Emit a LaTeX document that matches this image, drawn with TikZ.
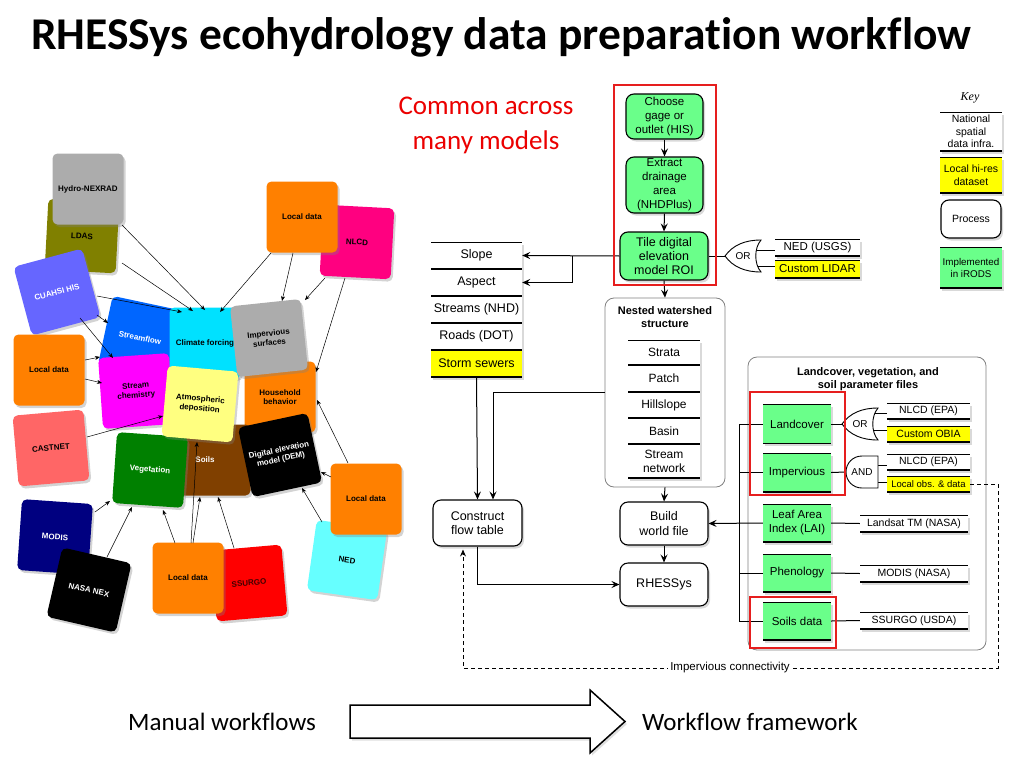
\documentclass[tikz,border=0pt]{standalone}
\usepackage{fontspec}
\setmainfont{Liberation Sans}
\setsansfont{Liberation Sans}
\newfontfamily\titlefont[Ligatures=NoCommon]{Carlito}
\newfontfamily\keyfont{Liberation Serif}
\usetikzlibrary{shadows,calc,arrows.meta}
\definecolor{irods}{RGB}{106,255,138}
\definecolor{ylw}{RGB}{255,255,0}
\definecolor{sqgray}{RGB}{172,172,172}
\definecolor{cOlive}{RGB}{128,128,0}
\definecolor{cuahsic}{RGB}{102,102,255}
\definecolor{orng}{RGB}{255,128,0}
\definecolor{nlcdc}{RGB}{255,0,128}
\definecolor{sflowc}{RGB}{0,102,255}
\definecolor{climc}{RGB}{0,225,255}
\definecolor{chemc}{RGB}{255,0,255}
\definecolor{atmc}{RGB}{255,255,128}
\definecolor{castc}{RGB}{255,102,102}
\definecolor{soilc}{RGB}{128,64,0}
\definecolor{vegc}{RGB}{0,128,0}
\definecolor{modc}{RGB}{0,0,128}
\definecolor{ssc}{RGB}{255,0,0}
\definecolor{nedc}{RGB}{102,255,255}
\definecolor{redline}{RGB}{230,30,30}
\definecolor{comred}{RGB}{235,0,0}
\begin{document}
\begin{tikzpicture}[x=1pt,y=-1pt,
  sq/.style={rounded corners=5pt, minimum width=71pt, minimum height=71pt, inner sep=1pt, align=center, font=\bfseries\fontsize{8}{9.5}\selectfont, drop shadow={opacity=0.35,shadow xshift=2pt,shadow yshift=-2.5pt}},
  proc/.style={draw, line width=1.1pt, rounded corners=8pt, fill=white, align=center, inner sep=1pt, font=\fontsize{12.5}{14.5}\selectfont, drop shadow={opacity=0.3,shadow xshift=2pt,shadow yshift=-2.5pt}},
  gproc/.style={proc, fill=irods, font=\fontsize{11.5}{14}\selectfont},
  tbl/.style={fill=white, align=center, inner sep=0.5pt, font=\fontsize{12.5}{14}\selectfont, path picture={\draw[line width=1.4pt] (path picture bounding box.north west) -- (path picture bounding box.north east) (path picture bounding box.south west) -- (path picture bounding box.south east);}, drop shadow={opacity=0.3,shadow xshift=2pt,shadow yshift=-2.5pt}},
  arr/.style={line width=1pt, -{Stealth[length=8pt,width=7pt,inset=3pt]}},
  carr/.style={line width=0.5pt, -{Stealth[length=5pt,width=4pt]}},
  lin/.style={line width=1pt},
  gate/.style={fill=white, draw, line width=0.9pt},
  gtext/.style={inner sep=0pt, minimum width=36pt, minimum height=32pt, font=\fontsize{10}{12}\selectfont},
  cont/.style={draw=black!50, line width=0.8pt, rounded corners=9pt, inner sep=0pt},
  redbox/.style={draw=redline, line width=1.2pt, inner sep=0pt}
]
\useasboundingbox (0,0) rectangle (1024,768);

% ---------- titles ----------
\node[anchor=base west, inner sep=0pt, font=\titlefont\bfseries\fontsize{45.5}{52}\selectfont] (title) at (31,49) {RHESSys ecohydrology data preparation workflow};
\node[align=center, text=comred, font=\titlefont\fontsize{27}{35}\selectfont] (common) at (486,125) {Common across\\many models};
\node[anchor=base west, inner sep=0pt, font=\titlefont\fontsize{25}{30}\selectfont] (manual) at (128,730) {Manual workflows};
\node[anchor=base west, inner sep=0pt, font=\titlefont\fontsize{25}{30}\selectfont] (framework) at (642,730) {Workflow framework};
\draw[line width=1.5pt, fill=white, drop shadow={opacity=0.25,shadow xshift=2pt,shadow yshift=-2.5pt}] (350,705) -- (590,705) -- (590,690) -- (625,721.5) -- (590,753) -- (590,738) -- (350,738) -- cycle;

% ---------- left cluster ----------
\node[sq, fill=cOlive, rotate=-3] (ldas) at (82,236) {LDAS};
\node[sq, fill=sqgray] (hydro) at (88,189) {Hydro-NEXRAD};
\node[sq, fill=cuahsic, text=white, rotate=15] (cuahsi) at (57,292) {CUAHSI HIS};
\node[sq, fill=nlcdc, rotate=-3] (nlcd) at (357,242) {NLCD};
\node[sq, fill=orng] (locA) at (302,217) {Local data};
\node[sq, fill=orng] (locB) at (49,370) {Local data};
\node[sq, fill=castc, rotate=5] (castnet) at (51,448) {CASTNET};
\node[sq, fill=sflowc, text=white, rotate=-12] (sflow) at (140,338) {Streamflow};
\node[sq, fill=chemc, rotate=4] (chem) at (136,391) {Stream\\chemistry};
\node[sq, fill=climc] (clim) at (205,343) {Climate forcing};
\node[sq, fill=orng] (house) at (280,397) {Household\\behavior};
\node[sq, fill=sqgray, rotate=6] (imperv) at (269,338) {Impervious\\surfaces};
\node[sq, fill=soilc, text=white] (soils) at (215,460) {Soils\hspace{20pt}\mbox{}};
\node[sq, fill=vegc, text=white, rotate=-4] (vege) at (150,470) {Vegetation};
\node[sq, fill=atmc, rotate=-5] (atmos) at (200,404) {Atmospheric\\deposition};
\node[sq, fill=black, text=white, rotate=12] (dem) at (280,455) {Digital elevation\\model (DEM)};
\node[sq, fill=modc, text=white, rotate=-4] (modis) at (55,537) {MODIS};
\node[sq, fill=black, text=white, rotate=-13] (nasa) at (89,590) {NASA NEX};
\node[sq, fill=ssc, text=black!75!red, rotate=5] (ssurgo) at (249,583) {SSURGO};
\node[sq, fill=orng] (locC) at (188,578) {Local data};
\node[sq, fill=nedc, rotate=-8] (ned) at (347,560) {NED};
\node[sq, fill=orng] (locD) at (366,499) {Local data};

\draw[carr] ($(hydro)+(34,36)$) -- ($(clim)+(0,-33)$);
\draw[carr] ($(ldas)+(40,27)$) -- ($(clim)+(-12,-32)$);
\draw[carr] ($(cuahsi)+(40,4)$) -- ($(clim)+(-23,-31)$);
\draw[carr] ($(cuahsi)+(40,23)$) -- ($(sflow)+(-32,-15)$);
\draw[carr] ($(cuahsi)+(23,26)$) -- ($(chem)+(-23,-33)$);
\draw[carr] ($(locA)+(-31,36)$) -- ($(clim)+(15,-31)$);
\draw[carr] ($(locA)+(-9,36)$) -- ($(imperv)+(13,-37)$);
\draw[carr] ($(nlcd)+(-32,36)$) -- ($(imperv)+(36,-38)$);
\draw[carr] ($(nlcd)+(-12,36)$) -- ($(house)+(36,-25)$);
\draw[carr] ($(locB)+(36,-10)$) -- ($(sflow)+(-40,19)$);
\draw[carr] ($(locB)+(36,9)$) -- ($(chem)+(-34,-8)$);
\draw[carr] ($(castnet)+(36,-11)$) -- ($(atmos)+(-37,12)$);
\draw[carr] ($(locD)+(-18,-36)$) -- ($(house)+(37,3)$);
\draw[carr] ($(locD)+(-35,-22)$) -- ($(dem)+(41,17)$);
\draw[carr] ($(ned)+(-25,-38)$) -- ($(dem)+(22,33)$);
\draw[carr] ($(modis)+(40,-25)$) -- ($(vege)+(-40,31)$);
\draw[carr] ($(nasa)+(18,-33)$) -- ($(vege)+(-18,37)$);
\draw[carr] ($(locC)+(-13,-35)$) -- ($(vege)+(13,40)$);
\draw[carr] ($(locC)+(3,-35)$) -- ($(atmos)+(-3,38)$);
\draw[carr] ($(locC)+(5,-35)$) -- ($(soils)+(-15,37)$);
\draw[carr] ($(ssurgo)+(-15,-35)$) -- ($(soils)+(3,37)$);

% ---------- containers ----------
\node[cont, minimum width=120pt, minimum height=189pt] (nested) at (665,392.5) {};
\node[font=\bfseries\fontsize{11}{13.5}\selectfont, align=center] (nestT) at (665,317) {Nested watershed\\structure};
\node[cont, minimum width=238pt, minimum height=293pt] (panel) at (867,503.5) {};
\node[font=\bfseries\fontsize{11}{13.5}\selectfont, align=center] (panT) at (868,379) {Landcover, vegetation, and\\soil parameter files};

% ---------- center column ----------
\node[gproc, minimum width=77pt, minimum height=45pt] (choose) at (664.5,116.5) {Choose\\gage or\\outlet (HIS)};
\node[gproc, minimum width=77pt, minimum height=56pt] (extract) at (664.5,185) {Extract\\drainage\\area\\(NHDPlus)};
\node[gproc, minimum width=88pt, minimum height=48pt, font=\fontsize{12.5}{14}\selectfont] (tile) at (664,256) {Tile digital\\elevation\\model ROI};

\node[tbl, minimum width=91pt, minimum height=27pt] (slope) at (476.5,255.5) {Slope};
\node[tbl, minimum width=91pt, minimum height=27pt] (aspect) at (476.5,282.5) {Aspect};
\node[tbl, minimum width=91pt, minimum height=27pt] (streams) at (476.5,309.5) {Streams (NHD)};
\node[tbl, minimum width=91pt, minimum height=27pt] (roads) at (476.5,336.5) {Roads (DOT)};
\node[tbl, fill=ylw, minimum width=91pt, minimum height=27pt] (storm) at (476.5,363.5) {Storm sewers};

\node[tbl, minimum width=72pt, minimum height=25pt, font=\fontsize{12}{14}\selectfont] (strata) at (664,352.5) {Strata};
\node[tbl, minimum width=72pt, minimum height=27pt, font=\fontsize{12}{14}\selectfont] (patch) at (664,378.5) {Patch};
\node[tbl, minimum width=72pt, minimum height=26pt, font=\fontsize{12}{14}\selectfont] (hill) at (664,405) {Hillslope};
\node[tbl, minimum width=72pt, minimum height=26pt, font=\fontsize{12}{14}\selectfont] (basin) at (664,431) {Basin};
\node[tbl, minimum width=72pt, minimum height=34pt, font=\fontsize{12}{14}\selectfont] (snet) at (664,461) {Stream\\network};

\node[proc, minimum width=89pt, minimum height=46pt] (construct) at (477.5,523) {Construct\\flow table};
\node[proc, minimum width=88pt, minimum height=43pt] (build) at (664,523.5) {Build\\world file};
\node[proc, minimum width=88pt, minimum height=43pt] (rhessys) at (664,584.5) {RHESSys};

% data boxes near tile
\node[tbl, minimum width=85pt, minimum height=17pt, font=\fontsize{11.5}{13}\selectfont] (nedb) at (817.5,247.5) {NED (USGS)};
\node[tbl, fill=ylw, minimum width=85pt, minimum height=18pt, font=\fontsize{11.5}{13}\selectfont] (lidar) at (817.5,269) {Custom LIDAR};

% ---------- right panel ----------
\node[tbl, fill=irods, minimum width=68pt, minimum height=39pt, font=\fontsize{11.5}{14}\selectfont] (landcover) at (797,424) {Landcover};
\node[tbl, fill=irods, minimum width=68pt, minimum height=39pt, font=\fontsize{11.5}{14}\selectfont] (impervious) at (797,472.5) {Impervious};
\node[tbl, fill=irods, minimum width=68pt, minimum height=38pt, font=\fontsize{11.5}{14}\selectfont] (lai) at (797,523) {Leaf Area\\Index (LAI)};
\node[tbl, fill=irods, minimum width=68pt, minimum height=38pt, font=\fontsize{11.5}{14}\selectfont] (pheno) at (797,573) {Phenology};
\node[tbl, fill=irods, minimum width=68pt, minimum height=38pt, font=\fontsize{11.5}{14}\selectfont] (soilsd) at (797,621) {Soils data};

\node[tbl, minimum width=83pt, minimum height=16pt, font=\fontsize{10.5}{12}\selectfont] (nlcdA) at (928.5,411) {NLCD (EPA)};
\node[tbl, fill=ylw, minimum width=83pt, minimum height=16pt, font=\fontsize{10.5}{12}\selectfont] (obia) at (928.5,434) {Custom OBIA};
\node[tbl, minimum width=83pt, minimum height=16pt, font=\fontsize{10.5}{12}\selectfont] (nlcdB) at (928.5,462) {NLCD (EPA)};
\node[tbl, fill=ylw, minimum width=83pt, minimum height=16pt, font=\fontsize{9.5}{11}\selectfont] (lobs) at (928.5,484) {Local obs. \& data};
\node[tbl, minimum width=108pt, minimum height=17pt, font=\fontsize{10.5}{12}\selectfont] (landsat) at (914,523.5) {Landsat TM (NASA)};
\node[tbl, minimum width=108pt, minimum height=17pt, font=\fontsize{10.5}{12}\selectfont] (modisb) at (914,573.5) {MODIS (NASA)};
\node[tbl, minimum width=108pt, minimum height=17pt, font=\fontsize{10.5}{12}\selectfont] (ssurgob) at (914,620.5) {SSURGO (USDA)};

% ---------- key ----------
\node[font=\keyfont\itshape\fontsize{12}{14}\selectfont] (keyT) at (970,98) {Key};
\node[tbl, minimum width=62pt, minimum height=39pt, font=\fontsize{10.5}{12.5}\selectfont] (kn) at (971,131.5) {National\\spatial\\data infra.};
\node[tbl, fill=ylw, minimum width=62pt, minimum height=36pt, font=\fontsize{10.5}{12.5}\selectfont] (kl) at (971,175) {Local hi-res\\dataset};
\node[proc, minimum width=60pt, minimum height=38pt, font=\fontsize{10.5}{12.5}\selectfont] (kp) at (971,219) {Process};
\node[tbl, fill=irods, minimum width=62pt, minimum height=41pt, font=\fontsize{9.8}{12}\selectfont] (ki) at (971,267.5) {Implemented\\in iRODS};

% ---------- gates ----------
\coordinate (g1c) at (743,256);
\coordinate (g2c) at (860,424);
\coordinate (g3c) at (862,472);
\draw[lin] ($(g1c)+(8,-6)$) coordinate (t) -- (t -| nedb.west);
\draw[lin] ($(g1c)+(8,10)$) coordinate (t) -- (t -| lidar.west);
\draw[lin] ($(g2c)+(8,-11)$) coordinate (t) -- (t -| nlcdA.west);
\draw[lin] ($(g2c)+(8,6)$) coordinate (t) -- (t -| obia.west);
\draw[lin] ($(g3c)+(8,-7)$) coordinate (t) -- (t -| nlcdB.west);
\draw[lin] ($(g3c)+(8,10)$) coordinate (t) -- (t -| lobs.west);
\draw[gate, shift={(g1c)}] (-18,0) .. controls (-10,-11) and (2,-16) .. (18,-16) .. controls (11,-8) and (11,8) .. (18,16) .. controls (2,16) and (-10,11) .. (-18,0) -- cycle;
\draw[gate, shift={(g2c)}] (-18,0) .. controls (-10,-11) and (2,-16) .. (18,-16) .. controls (11,-8) and (11,8) .. (18,16) .. controls (2,16) and (-10,11) .. (-18,0) -- cycle;
\draw[gate, shift={(g3c)}] (16,-16) -- (0,-16) .. controls (-9,-16) and (-16,-9) .. (-16,0) .. controls (-16,9) and (-9,16) .. (0,16) -- (16,16) -- cycle;
\node[gtext] (g1) at (g1c) {OR};
\node[gtext] (g2) at (g2c) {OR};
\node[gtext, minimum width=32pt] (g3) at (g3c) {AND};

% ---------- connectors ----------
\draw[arr] (choose.south) -- (extract.north);
\draw[arr] (extract.south) -- (tile.north);
\draw[arr] (tile.south) -- (nested.north);
\draw[arr] (tile.west) -- (slope.east);
\coordinate (br1) at (572,256);
\draw[arr] (br1) |- (aspect.east);
\draw[lin] (tile.east) -- (g1.west);
\draw[arr] (storm.south) -- (construct.north);
\draw[arr] (nested.west) -| ($(construct.north)+(15.5,0)$);
\draw[arr] (nested.south) -- (build.north);
\draw[arr] (build.south) -- (rhessys.north);
\draw[arr] (construct.south) |- (rhessys.west);
\draw[lin] (landcover.east) -- (g2.west);
\draw[lin] (impervious.east) -- (g3.west);
\draw[lin] (lai.east) -- (landsat.west);
\draw[lin] (pheno.east) -- (modisb.west);
\draw[lin] (soilsd.east) -- (ssurgob.west);
\coordinate (bk) at (739,424);
\draw[lin] (landcover.west) -- (landcover.west -| bk) -- (soilsd.west -| bk) -- (soilsd.west);
\draw[lin] (impervious.west) -- (impervious.west -| bk);
\draw[lin] (pheno.west) -- (pheno.west -| bk);
\draw[arr] (lai.west) -- (build.east);

\coordinate (dR) at (998,668);
\coordinate (dL) at (463,668);
\draw[dash pattern=on 4pt off 3pt, line width=0.8pt, shorten >=3pt, -{Stealth[length=7pt,width=6pt,inset=2.5pt]}] (lobs.east) -| (dR) -- (dL) -- (dL |- construct.south);
\node[fill=white, inner sep=2pt, font=\fontsize{11.5}{13}\selectfont] (icon) at (730,668) {Impervious connectivity};

% ---------- red frames ----------
\node[redbox, minimum width=102pt, minimum height=200pt] (rb1) at (665,185) {};
\node[redbox, minimum width=95pt, minimum height=103pt] (rb2) at (797.5,443.5) {};
\node[redbox, minimum width=86pt, minimum height=51pt] (rb3) at (793,622.5) {};
\end{tikzpicture}
\end{document}
